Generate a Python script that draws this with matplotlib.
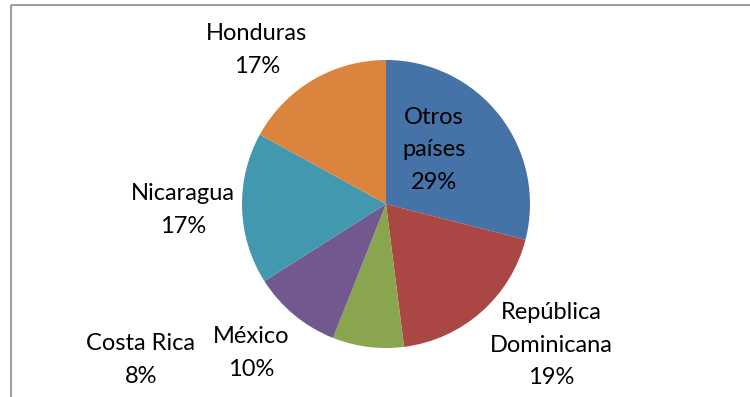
import matplotlib.pyplot as plt

# participación por país
paises = ['Otros\npaíses', 'República\nDominicana', 'Costa Rica', 'México', 'Nicaragua', 'Honduras']
valores = [29, 19, 8, 10, 17, 17]
colores = ['#4572A7', '#AA4643', '#89A54E', '#71588F', '#4198AF', '#DB843D']

# centro de cada etiqueta en pixeles (x, y desde arriba)
pos_etiquetas = [(434, 150), (551, 345), (141, 360), (251, 353), (183, 210), (257, 50)]

W, H = 750, 397
fig = plt.figure(figsize=(W / 100, H / 100), dpi=100)
ax = fig.add_axes([0, 0, 1, 1])

ax.pie(valores, colors=colores, startangle=90, counterclock=False,
       center=(386, H - 204), radius=144,
       wedgeprops=dict(linewidth=0))
ax.set_xlim(0, W)
ax.set_ylim(0, H)
ax.set_aspect('equal')
ax.axis('off')

for nombre, v, (x, y) in zip(paises, valores, pos_etiquetas):
    ax.text(x, H - y, f'{nombre}\n{v}%', ha='center', va='center',
            fontsize=17, family='Lato', linespacing=1.7, color='black')

# marco gris del area del grafico
ax.plot([11, 11], [0, H - 5], color='#8a8a8a', lw=1.2, solid_capstyle='butt')
ax.plot([11, W], [H - 5, H - 5], color='#8a8a8a', lw=1.2, solid_capstyle='butt')

fig.savefig('out.png', dpi=100)
